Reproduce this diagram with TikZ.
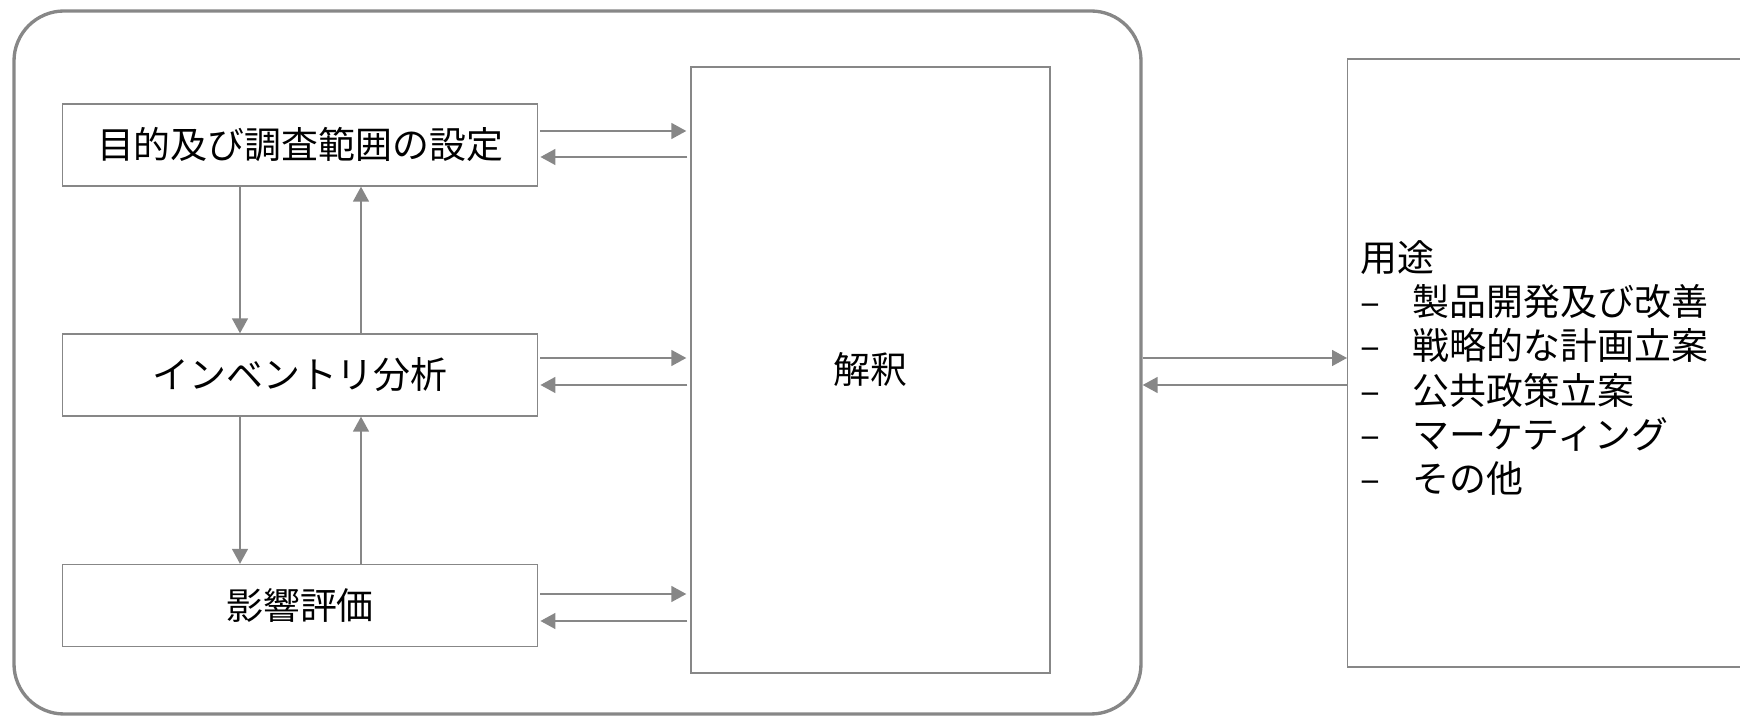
\documentclass[tikz,border=0pt]{standalone}
\usepackage{fontspec}
\setmainfont{Noto Sans CJK JP}
\usetikzlibrary{arrows.meta}
\definecolor{linegray}{HTML}{878787}

\begin{document}
\begin{tikzpicture}[
	box/.style = {draw = linegray, line width = 0.4pt, minimum width = 4.755cm, minimum height = 0.82cm, inner sep = 0pt},
	arr/.style = {draw = linegray, line width = 0.45pt, -{Triangle[length = 0.15cm, width = 0.16cm]}},
	font = \fontsize{10.5}{12.6}\selectfont]
	\useasboundingbox (0, 0) rectangle (17.4, 7.16);
	
	\node[draw = linegray, line width = 0.95pt, rounded corners = 0.5cm, minimum width = 11.27cm, minimum height = 7.03cm, inner sep = 0pt] (frame) at (5.775, 3.535) {};
	
	\node[box] (goal) at (3, 5.71) {目的及び調査範囲の設定};
	\node[box] (inventory) at (3, 3.41) {インベントリ分析};
	\node[box] (impact) at (3, 1.105) {影響評価};
	\node[box, minimum width = 3.59cm, minimum height = 6.06cm] (interp) at (8.705, 3.46) {解釈};
	
	\node[box, anchor = west, minimum width = 4.5cm, minimum height = 6.08cm] (uses) at (13.47, 3.53) {};
	\node[anchor = west, align = left, inner sep = 0pt] (usestext) at (13.6, 3.48) {用途\\
		\makebox[0.52cm][l]{–}製品開発及び改善\\
		\makebox[0.52cm][l]{–}戦略的な計画立案\\
		\makebox[0.52cm][l]{–}公共政策立案\\
		\makebox[0.52cm][l]{–}マーケティング\\
		\makebox[0.52cm][l]{–}その他};
	
	\draw[arr] ([xshift = -0.6cm]goal.south) -- ([xshift = -0.6cm]inventory.north);
	\draw[arr] ([xshift = 0.61cm]inventory.north) -- ([xshift = 0.61cm]goal.south);
	\draw[arr] ([xshift = -0.6cm]inventory.south) -- ([xshift = -0.6cm]impact.north);
	\draw[arr] ([xshift = 0.61cm]impact.north) -- ([xshift = 0.61cm]inventory.south);
	
	\foreach \b/\dr/\dl in {goal/0.14/-0.12, inventory/0.17/-0.10, impact/0.115/-0.155}
	{
		\draw[arr] ([shift = {(0.02, \dr)}]\b.east) -- ([shift = {(-0.04, \dr)}]\b.east -| interp.west);
		\draw[arr] ([shift = {(-0.03, \dl)}]\b.east -| interp.west) -- ([shift = {(0.02, \dl)}]\b.east);
	}
	
	\draw[arr] ([yshift = 0.045cm]frame.east) -- ([yshift = 0.045cm]frame.east -| uses.west);
	\draw[arr] ([yshift = -0.225cm]frame.east -| uses.west) -- ([yshift = -0.225cm]frame.east);
\end{tikzpicture}
\end{document}
